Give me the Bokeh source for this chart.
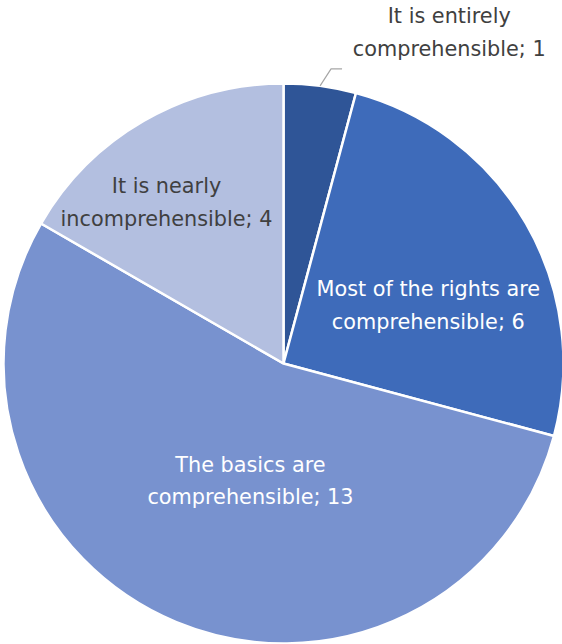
import math
from bokeh.plotting import figure
from bokeh.models import Range1d, ColumnDataSource
from bokeh.core.properties import value
from bokeh.embed import file_html
from bokeh.resources import INLINE

categories = ["It is entirely\ncomprehensible; 1",
              "Most of the rights are\ncomprehensible; 6",
              "The basics are\ncomprehensible; 13",
              "It is nearly\nincomprehensible; 4"]
counts = [1, 6, 13, 4]
colors = ["#2F5597", "#3E6BBA", "#7892CF", "#B3BFE0"]
text_colors = ["#404040", "#FFFFFF", "#FFFFFF", "#404040"]

W, H = 562, 644
cx, cy, R = 283, H - 363, 280

p = figure(width=W, height=H, x_range=Range1d(0, W), y_range=Range1d(0, H),
           output_backend="svg", toolbar_location=None, min_border=0)
p.axis.visible = False
p.grid.visible = False
p.outline_line_color = None
p.background_fill_color = "white"
p.border_fill_color = "white"

total = sum(counts)
starts, ends = [], []
cum = 0
for c in counts:
    starts.append(math.pi / 2 - 2 * math.pi * cum / total)
    cum += c
    ends.append(math.pi / 2 - 2 * math.pi * cum / total)

src = ColumnDataSource(dict(x=[cx] * len(counts), y=[cy] * len(counts),
                            start=starts, end=ends, color=colors))
p.wedge(x="x", y="y", radius=R, start_angle="start", end_angle="end",
        direction="clock", fill_color="color", line_color="white",
        line_width=2.5, source=src)

# label placement (polar: angle in degrees, distance as fraction of radius)
label_polar = [(63.4, 1.322), (21.8, 0.557), (-105.7, 0.436), (126.0, 0.711)]
lx, ly = [], []
for ang, fr in label_polar:
    a = math.radians(ang)
    lx.append(cx + R * fr * math.cos(a))
    ly.append(cy + R * fr * math.sin(a))

lsrc = ColumnDataSource(dict(x=lx, y=ly, t=categories, c=text_colors))
p.text(x="x", y="y", text="t", text_color="c", source=lsrc,
       text_align="center", text_baseline="middle",
       text_font=value("DejaVu Sans"), text_font_size="20.8px",
       text_line_height=1.36)

# leader line for the small slice
mid = (starts[0] + ends[0]) / 2
edge_x = cx + R * math.cos(mid)
edge_y = cy + R * math.sin(mid)
p.line(x=[edge_x, edge_x + 11, edge_x + 22],
       y=[edge_y, edge_y + 17, edge_y + 17],
       line_color="#A6A6A6", line_width=1.2)

open("out.html", "w").write(file_html(p, INLINE))
